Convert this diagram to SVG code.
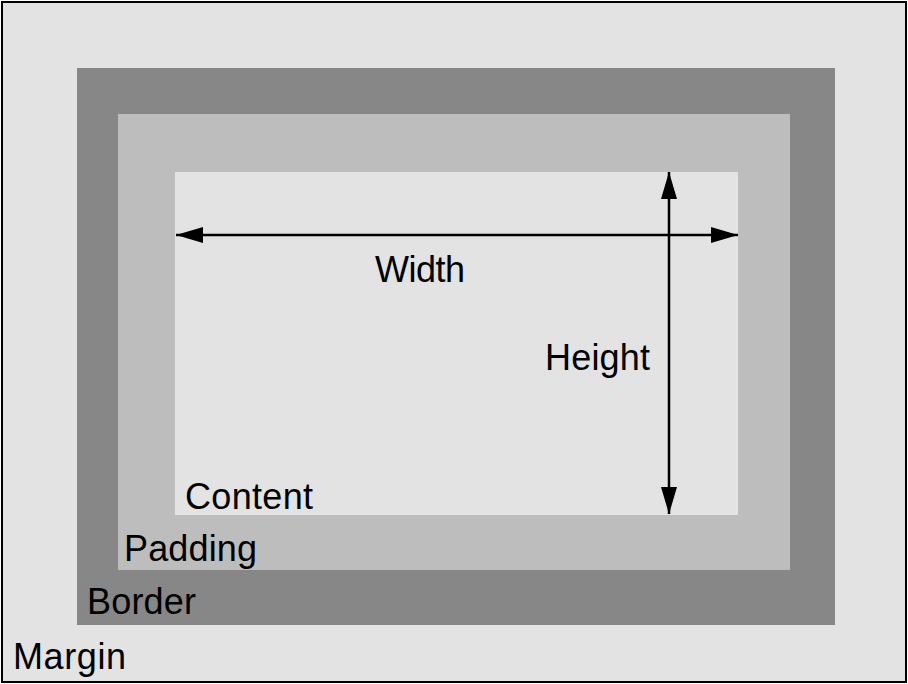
<svg xmlns="http://www.w3.org/2000/svg" width="908" height="684" viewBox="0 0 908 684">
<style>text{font-family:"Liberation Sans",Arial,sans-serif;font-size:36px;fill:#000}.l{stroke:#000;stroke-width:2.5}</style>
<defs><marker id="a" viewBox="0 0 27 16" refX="27" refY="8" markerWidth="27" markerHeight="16" markerUnits="userSpaceOnUse" orient="auto-start-reverse"><path d="M0,0L27,8L0,16z" fill="#000"/></marker></defs>
<g id="margin"><rect x="2" y="2" width="904" height="680" fill="#e3e3e3" stroke="#000" stroke-width="2"/><text x="13" y="669" textLength="113">Margin</text></g>
<g id="border"><rect x="77" y="68" width="758" height="557" fill="#878787"/><text x="87" y="614" textLength="109">Border</text></g>
<g id="padding"><rect x="118" y="114" width="672" height="456" fill="#bdbdbd"/><text x="124" y="561" textLength="133">Padding</text></g>
<g id="content"><rect x="175" y="172" width="563" height="343" fill="#e3e3e3"/><text x="185" y="509" textLength="128">Content</text></g>
<g id="connectors"><line class="l" x1="176" y1="235" x2="738" y2="235" marker-start="url(#a)" marker-end="url(#a)"/><line class="l" x1="669" y1="172" x2="669" y2="514" marker-start="url(#a)" marker-end="url(#a)"/></g>
<text x="375" y="282" textLength="90">Width</text><text x="545" y="370" textLength="105">Height</text>
</svg>
